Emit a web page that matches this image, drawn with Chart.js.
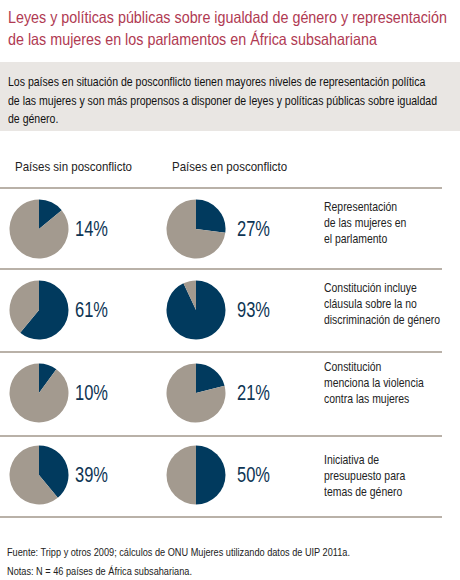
<!DOCTYPE html>
<html>
<head>
<meta charset="utf-8">
<script src="https://cdn.jsdelivr.net/npm/chart.js@4"></script>
<style>
  body { margin: 0; width: 460px; height: 580px; background: #fff; position: relative; overflow: hidden;
         font-family: 'Liberation Sans', Arial, sans-serif; }
  .abs { position: absolute; white-space: nowrap; transform-origin: left top; }
  #title { left: 8px; top: 6px; color: #b03a52; font-size: 16.5px; line-height: 22px; }
  #box { left: 0; top: 62px; width: 460px; height: 69px; background: #e9e6e3; }
  #lead { left: 8px; top: 73px; color: #111; font-size: 13.2px; line-height: 18.5px; }
  .head { top: 159px; font-size: 13.2px; color: #222; }
  .rule { left: 0; width: 442px; height: 2px; background: #b9b1a8; }
  .pie { width: 60px; height: 60px; }
  .pct { font-size: 21.5px; color: #0d3453; line-height: 24px; }
  .lab { font-size: 12.6px; line-height: 16.2px; color: #222; }
  .foot { left: 7px; font-size: 10.2px; color: #222; }
</style>
</head>
<body>
<div id="title" class="abs">Leyes y políticas públicas sobre igualdad de género y representación<br>de las mujeres en los parlamentos en África subsahariana</div>
<div id="box" class="abs"></div>
<div id="lead" class="abs">Los países en situación de posconflicto tienen mayores niveles de representación política<br>de las mujeres y son más propensos a disponer de leyes y políticas públicas sobre igualdad<br>de género.</div>
<div id="grid"></div>
<div id="foot1" class="abs foot" style="top:547px">Fuente: Tripp y otros 2009; cálculos de ONU Mujeres utilizando datos de UIP 2011a.</div>
<div class="abs foot" style="top:566px">Notas: N = 46 países de África subsahariana.</div>
<script>
// --- Data ---
const groups = ['Países sin posconflicto', 'Países en posconflicto'];
const indicators = [
  'Representación<br>de las mujeres en<br>el parlamento',
  'Constitución incluye<br>cláusula sobre la no<br>discriminación de género',
  'Constitución<br>menciona la violencia<br>contra las mujeres',
  'Iniciativa de<br>presupuesto para<br>temas de género'
];
const sinPosconflicto = [14, 61, 10, 39];
const enPosconflicto = [27, 93, 21, 50];

const navy = '#013a5e';
const taupe = '#a39a8f';

// --- Layout ---
const grid = document.getElementById('grid');
const rowCenters = [229, 310, 393, 475];
const labelTops = [199, 280, 359, 452];
const rules = [188, 269, 352, 436, 517];
const pieX = [9, 166];
const pctX = [75, 237];

groups.forEach((g, i) => {
  const h = document.createElement('div');
  h.className = 'abs head';
  h.style.left = (i === 0 ? 15 : 172) + 'px';
  h.textContent = g;
  grid.appendChild(h);
});

rules.forEach(y => {
  const r = document.createElement('div');
  r.className = 'abs rule';
  r.style.top = (y - 1) + 'px';
  grid.appendChild(r);
});

[sinPosconflicto, enPosconflicto].forEach((series, col) => {
  series.forEach((v, row) => {
    const wrap = document.createElement('div');
    wrap.className = 'abs pie';
    wrap.style.left = pieX[col] + 'px';
    wrap.style.top = (rowCenters[row] - 30) + 'px';
    const c = document.createElement('canvas');
    wrap.appendChild(c);
    grid.appendChild(wrap);

    new Chart(c, {
      type: 'pie',
      data: {
        labels: ['Sí', 'No'],
        datasets: [{ data: [v, 100 - v], backgroundColor: [navy, taupe], borderWidth: 0 }]
      },
      options: {
        responsive: true,
        maintainAspectRatio: false,
        animation: false,
        layout: { padding: 0.5 },
        plugins: { legend: { display: false }, tooltip: { enabled: false } }
      }
    });

    const p = document.createElement('div');
    p.className = 'abs pct';
    p.style.left = pctX[col] + 'px';
    p.style.top = (rowCenters[row] - 12) + 'px';
    p.textContent = v + '%';
    grid.appendChild(p);
  });
});

indicators.forEach((t, row) => {
  const l = document.createElement('div');
  l.className = 'abs lab';
  l.style.left = '324px';
  l.style.top = labelTops[row] + 'px';
  l.innerHTML = t;
  grid.appendChild(l);
});

// --- Narrow the type to the condensed look of the original ---
// k is taken from one element of a kind, then used for all of that kind
function condense(els, refEl, targetW) {
  const k = targetW / refEl.getBoundingClientRect().width;
  els.forEach(el => { el.style.transform = `scaleX(${k})`; });
}
const q = s => Array.from(document.querySelectorAll(s));
condense([document.getElementById('title')], document.getElementById('title'), 439);
condense([document.getElementById('lead')], document.getElementById('lead'), 429);
condense(q('.head'), q('.head')[0], 117);
condense(q('.pct'), q('.pct')[0], 33);
condense(q('.lab'), q('.lab')[1], 116);
condense(q('.foot'), document.getElementById('foot1'), 343);
</script>
</body>
</html>
